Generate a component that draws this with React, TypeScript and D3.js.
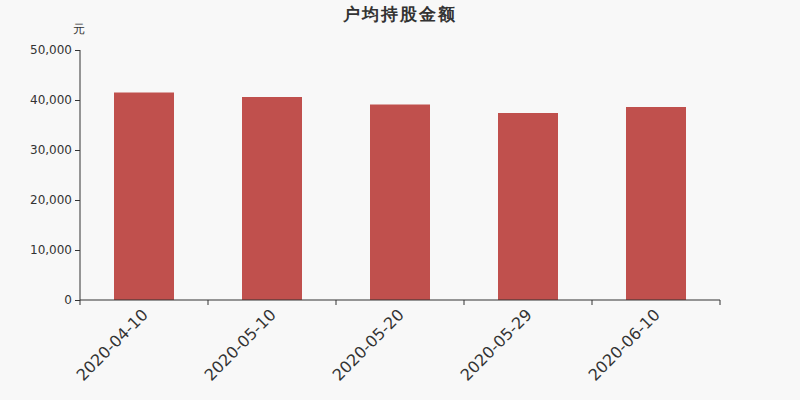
import { useEffect, useRef } from "react";
import * as d3 from "d3";

const categories = ["2020-04-10", "2020-05-10", "2020-05-20", "2020-05-29", "2020-06-10"];
const values = [41500, 40600, 39100, 37400, 38600];
const yTicks = [0, 10000, 20000, 30000, 40000, 50000];

const WIDTH = 800;
const HEIGHT = 400;
const MARGIN = { top: 50, right: 80, bottom: 100, left: 80 };
const FONT = "'DejaVu Sans', sans-serif";

export default function App() {
  const svgRef = useRef<SVGSVGElement>(null);

  useEffect(() => {
    document.body.style.margin = "0";
    const svg = d3.select(svgRef.current);
    svg.selectAll("*").remove();

    const x = d3
      .scaleBand<string>()
      .domain(categories)
      .range([MARGIN.left, WIDTH - MARGIN.right]);
    const y = d3
      .scaleLinear()
      .domain([0, 50000])
      .range([HEIGHT - MARGIN.bottom, MARGIN.top]);

    svg.append("rect").attr("width", WIDTH).attr("height", HEIGHT).attr("fill", "#f8f8f8");

    // title
    svg
      .append("text")
      .attr("x", WIDTH / 2)
      .attr("y", 20)
      .attr("text-anchor", "middle")
      .attr("font-family", FONT)
      .attr("font-size", 17)
      .attr("font-weight", "bold")
      .attr("letter-spacing", "2px")
      .attr("fill", "#333")
      .text("户均持股金额");

    // unit
    svg
      .append("text")
      .attr("x", 79)
      .attr("y", 33)
      .attr("text-anchor", "middle")
      .attr("font-family", FONT)
      .attr("font-size", 12)
      .attr("fill", "#333")
      .text("元");

    // bars
    const barW = 60;
    svg
      .append("g")
      .selectAll("rect")
      .data(values)
      .enter()
      .append("rect")
      .attr("x", (_, i) => x(categories[i])! + (x.bandwidth() - barW) / 2)
      .attr("y", (d) => y(d))
      .attr("width", barW)
      .attr("height", (d) => y(0) - y(d))
      .attr("fill", "#c0504d");

    // y axis
    const yAxis = svg
      .append("g")
      .attr("transform", `translate(${MARGIN.left},0)`)
      .call(
        d3
          .axisLeft(y)
          .tickValues(yTicks)
          .tickSize(5)
          .tickPadding(3)
          .tickFormat((d) => d3.format(",")(d as number))
      );
    yAxis.select(".domain").attr("stroke", "#333").attr("d", `M0,${y(50000)}V${y(0)}`);
    yAxis.selectAll(".tick line").attr("stroke", "#333");
    yAxis
      .selectAll(".tick text")
      .attr("fill", "#333")
      .attr("font-family", FONT)
      .attr("font-size", 12);

    // x axis
    const xAxis = svg
      .append("g")
      .attr("transform", `translate(0,${y(0)})`);
    xAxis
      .append("line")
      .attr("x1", MARGIN.left)
      .attr("x2", WIDTH - MARGIN.right)
      .attr("stroke", "#333");
    const bounds = categories.map((c) => x(c)!).concat([WIDTH - MARGIN.right]);
    xAxis
      .selectAll("line.tk")
      .data(bounds)
      .enter()
      .append("line")
      .attr("class", "tk")
      .attr("x1", (d) => d)
      .attr("x2", (d) => d)
      .attr("y1", 0)
      .attr("y2", 5)
      .attr("stroke", "#333");
    xAxis
      .selectAll("text")
      .data(categories)
      .enter()
      .append("text")
      .attr(
        "transform",
        (d) => `translate(${x(d)! + x.bandwidth() / 2 - 3},${8}) rotate(-45)`
      )
      .attr("text-anchor", "end")
      .attr("dy", "0.7em")
      .attr("font-family", FONT)
      .attr("font-size", 16)
      .attr("fill", "#333")
      .text((d) => d);
  }, []);

  return <svg ref={svgRef} width={WIDTH} height={HEIGHT} style={{ display: "block" }} />;
}
